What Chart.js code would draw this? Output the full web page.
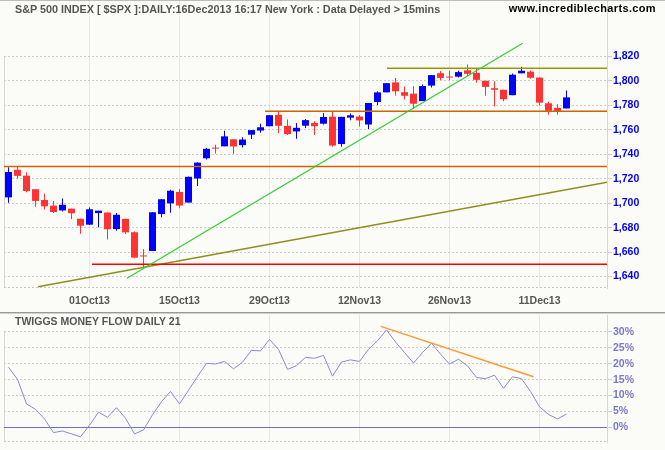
<!DOCTYPE html>
<html><head><meta charset="utf-8">
<script src="https://cdn.jsdelivr.net/npm/chart.js@4.4.1/dist/chart.umd.min.js"></script>
<style>
html,body{margin:0;padding:0;background:#fbfbf7;}
#wrap{position:relative;width:665px;height:450px;overflow:hidden;background:#fbfbf7;font-family:'Liberation Sans',Arial,sans-serif;font-weight:bold;}
canvas{position:absolute;left:0;}
#c1{top:0;} #c2{top:314px;}
.t{position:absolute;white-space:nowrap;line-height:1;}
</style></head>
<body><div id="wrap">
<canvas id="c1" width="665" height="312"></canvas>
<canvas id="c2" width="665" height="136"></canvas>
<div style="position:absolute;left:0;top:0;width:665px;height:1px;background:#bdbdbd"></div>
<div style="position:absolute;left:0;top:312px;width:665px;height:1px;background:#999"></div>
<div style="position:absolute;left:0;top:313px;width:665px;height:1px;background:#d0d0d0"></div>
<div class="t" style="left:15px;top:4px;font-size:10.8px;color:#555">S&amp;P 500 INDEX [ $SPX ]:DAILY:16Dec2013 16:17 New York : Data Delayed &gt; 15mins</div>
<div class="t" style="right:9px;top:3px;font-size:11px;letter-spacing:0.35px;color:#000">www.incrediblecharts.com</div>
<div class="t" style="left:15px;top:316px;font-size:10.5px;color:#555">TWIGGS MONEY FLOW DAILY 21</div>
</div>
<script>
// ---- data ----
const DATES = ['18Sep13','19Sep13','20Sep13','23Sep13','24Sep13','25Sep13','26Sep13','27Sep13','30Sep13',
 '01Oct13','02Oct13','03Oct13','04Oct13','07Oct13','08Oct13','09Oct13','10Oct13','11Oct13','14Oct13','15Oct13','16Oct13','17Oct13','18Oct13','21Oct13','22Oct13','23Oct13','24Oct13','25Oct13','28Oct13','29Oct13','30Oct13','31Oct13',
 '01Nov13','04Nov13','05Nov13','06Nov13','07Nov13','08Nov13','11Nov13','12Nov13','13Nov13','14Nov13','15Nov13','18Nov13','19Nov13','20Nov13','21Nov13','22Nov13','25Nov13','26Nov13','27Nov13','29Nov13',
 '02Dec13','03Dec13','04Dec13','05Dec13','06Dec13','09Dec13','10Dec13','11Dec13','12Dec13','13Dec13','16Dec13'];
const OPEN = [1704.76,1727.34,1722.44,1711.44,1702.60,1698.02,1694.05,1695.52,1687.26,
 1682.41,1691.90,1692.35,1678.79,1687.15,1676.22,1656.99,1660.88,1691.09,1699.86,1709.17,1700.49,1720.17,1736.72,1745.20,1746.48,1752.27,1747.48,1756.01,1759.42,1762.93,1772.27,1763.24,
 1758.70,1763.40,1765.67,1765.00,1770.74,1748.37,1769.96,1770.87,1764.37,1782.75,1790.66,1798.82,1790.79,1789.59,1783.52,1796.19,1806.33,1802.87,1803.48,1808.69,
 1806.55,1800.10,1794.08,1792.82,1788.36,1806.21,1807.60,1802.76,1781.71,1777.98,1777.48];
const HIGH = [1729.44,1729.86,1725.23,1711.44,1707.63,1701.71,1703.85,1695.52,1687.26,
 1696.55,1693.87,1692.35,1691.94,1687.15,1676.79,1662.47,1692.56,1703.44,1711.03,1711.57,1721.76,1733.45,1745.31,1747.79,1759.33,1752.27,1753.94,1759.82,1764.99,1772.09,1775.22,1768.53,
 1765.67,1768.78,1767.03,1773.74,1774.54,1770.78,1773.44,1772.21,1782.00,1791.53,1798.22,1802.33,1795.51,1795.73,1797.16,1804.84,1808.10,1808.42,1808.27,1813.55,
 1810.02,1800.10,1799.80,1792.82,1806.04,1811.52,1808.52,1802.97,1782.99,1780.92,1792.22];
const LOW = [1700.35,1720.20,1708.89,1697.10,1694.90,1691.88,1693.11,1687.11,1674.99,
 1682.07,1680.34,1670.36,1677.33,1674.70,1655.03,1646.47,1660.88,1688.52,1692.13,1695.93,1700.49,1714.12,1735.74,1740.67,1746.48,1740.50,1745.50,1752.45,1757.67,1762.93,1757.24,1755.72,
 1752.70,1761.56,1755.76,1764.40,1746.20,1746.20,1767.85,1762.69,1760.64,1780.22,1790.66,1788.00,1784.72,1777.23,1783.52,1794.70,1800.58,1800.77,1802.77,1803.98,
 1798.60,1787.85,1779.09,1783.38,1788.36,1806.21,1801.75,1780.09,1772.28,1772.45,1777.48];
const CLOSE = [1725.52,1722.34,1709.91,1701.84,1697.42,1692.77,1698.67,1691.75,1681.55,
 1695.00,1693.87,1678.66,1690.50,1676.12,1655.45,1656.40,1692.56,1703.20,1710.14,1698.06,1721.54,1733.15,1744.50,1744.66,1754.67,1746.38,1752.07,1759.77,1762.11,1771.95,1763.31,1756.54,
 1761.64,1767.93,1762.97,1770.49,1747.15,1770.61,1771.89,1767.69,1782.00,1790.62,1798.18,1791.53,1787.87,1781.37,1795.85,1804.76,1802.48,1802.75,1807.23,1805.81,
 1800.90,1795.15,1792.81,1785.03,1805.09,1808.37,1802.62,1782.22,1775.50,1775.32,1786.54];
const TMF = [18.9,15.1,7.4,5.7,2.7,-1.6,-1.1,-2.0,-2.9,0.7,4.8,3.2,6.2,2.9,-2.0,-0.8,4.0,8.1,11.3,7.4,
 11.7,16.0,20.1,19.9,20.7,18.4,20.5,24.2,24.0,27.6,24.5,18.2,19.4,22.0,21.7,22.6,16.1,20.5,21.2,20.7,
 24.5,27.2,30.6,26.8,23.5,20.2,23.5,26.4,23.0,19.9,21.4,19.3,15.7,15.3,16.4,12.3,15.9,15.3,11.3,6.5,4.1,2.7,4.2];
const TICK_LABELS = ['01Oct13','15Oct13','29Oct13','12Nov13','26Nov13','11Dec13'];
const PRICE_TICKS = [1640,1660,1680,1700,1720,1740,1760,1780,1800,1820];
const TMF_TICKS = [0,5,10,15,20,25,30];
// drawn lines: [candle index, value] end points
const LINE_1730 = [[-0.5,1730],[66.5,1730]];
const LINE_1775 = [[28.5,1775.2],[66.5,1775.2]];
const LINE_1810 = [[42.06,1810.3],[66.5,1810.3]];
const LINE_1650 = [[9.28,1650],[66.5,1650]];
const TREND_UP = [[13.17,1638.5],[57.13,1830.8]];
const TREND_LONG = [[3.28,1631.7],[66.5,1717.1]];
const TMF_TREND = [[41.37,31.7],[58.33,15.9]];
const TMF_ZERO = [[-0.5,0],[66.5,0]];

// ---- chart ----
const FONT = "'Liberation Sans', Arial, sans-serif";
const TICK_IDX = TICK_LABELS.map(l => DATES.indexOf(l));
const XMIN = -0.5, XMAX = 66.5;
const pts = a => a.map(p => ({x: p[0], y: p[1]}));
const UP = '#0000ff', DOWN = '#ff3333';
const colors = CLOSE.map((c, i) => c >= OPEN[i] ? UP : DOWN);

const framePlugin = {
  id: 'frame',
  beforeDatasetsDraw(chart, args, opts) {
    const {ctx, chartArea: a} = chart;
    const top = chart.scales.y.getPixelForValue(opts.topValue);
    ctx.save();
    ctx.lineWidth = 1;
    ctx.strokeStyle = '#d6d6d6';
    ctx.beginPath(); ctx.moveTo(a.left + 0.5, Math.round(top)); ctx.lineTo(a.left + 0.5, a.bottom); ctx.stroke();
    ctx.setLineDash([2, 2]);
    ctx.strokeStyle = '#c8c8c8';
    ctx.beginPath(); ctx.moveTo(a.left, a.bottom - 0.5); ctx.lineTo(a.right, a.bottom - 0.5); ctx.stroke();
    ctx.restore();
  }
};

function lineDs(points, color, width) {
  return {type: 'line', data: pts(points), borderColor: color, borderWidth: width,
          pointRadius: 0, tension: 0, fill: false, order: 0};
}
function xScale(showLabels, height) {
  return {
    type: 'linear', min: XMIN, max: XMAX, offset: false,
    grid: {color: '#e6e6e6', drawTicks: false, offset: false},
    border: {display: false},
    afterBuildTicks: s => { s.ticks = TICK_IDX.map(v => ({value: v})); },
    ticks: {display: showLabels, autoSkip: false, maxRotation: 0, padding: 7, color: '#555',
            font: {family: FONT, size: 10.5, weight: 'bold'},
            callback: v => TICK_LABELS[TICK_IDX.indexOf(v)]},
    afterFit: s => { s.height = height; s.paddingLeft = 0; s.paddingRight = 0; }
  };
}
function yScale(min, max, ticks, color, fmt) {
  return {
    type: 'linear', position: 'right', min, max,
    afterBuildTicks: s => { s.ticks = ticks.map(v => ({value: v})); },
    grid: {color: '#cccccc', tickLength: 5},
    border: {display: true, color: '#d6d6d6', dash: [2, 2]},
    ticks: {color, padding: 1, font: {family: FONT, size: 10.5, weight: 'bold'}, callback: fmt},
    afterFit: s => { s.width = 58; s.paddingTop = 0; s.paddingBottom = 0; }
  };
}

// price panel: area top 1, bottom 288; 1820 at 56.5, 1640 at 276.5
const K1 = 220 / 180;
const PMAX = 1820 + 55.5 / K1, PMIN = 1640 - 11.5 / K1;

new Chart(document.getElementById('c1'), {
  type: 'bar',
  data: {
    datasets: [
      lineDs(TREND_UP, '#33cc33', 1.2),
      lineDs(LINE_1810, '#999900', 1.5),
      lineDs(LINE_1775, '#cc6600', 1.5),
      lineDs(LINE_1730, '#cc6600', 1.5),
      lineDs(LINE_1650, '#ff0000', 1.5),
      lineDs(TREND_LONG, '#8f8f1f', 1.5),
      {type: 'bar', data: OPEN.map((o, i) => ({x: i, y: [o, CLOSE[i]]})), backgroundColor: colors,
       barThickness: 7, grouped: false, minBarLength: 1, borderWidth: 0, inflateAmount: 0, order: 1},
      {type: 'bar', data: LOW.map((l, i) => ({x: i, y: [l, HIGH[i]]})), backgroundColor: colors,
       barThickness: 1, grouped: false, borderWidth: 0, inflateAmount: 0, order: 2}
    ]
  },
  options: {
    responsive: false, animation: false, devicePixelRatio: 1, events: [],
    layout: {padding: {left: 4, top: 1, right: 0, bottom: 0}},
    plugins: {legend: {display: false}, tooltip: {enabled: false}, frame: {topValue: 1820}},
    scales: {
      x: xScale(true, 24),
      y: yScale(PMIN, PMAX, PRICE_TICKS, '#0000ee', v => v.toLocaleString('en-US'))
    }
  },
  plugins: [framePlugin]
});

// TMF panel: canvas top 314; area top 1 (315), bottom 128 (442); 0% at 113.5, 30% at 17.8
const K2 = (113.5 - 17.8) / 30;
const TMAX = (113.5 - 1) / K2, TMIN = -(128 - 113.5) / K2;

new Chart(document.getElementById('c2'), {
  type: 'line',
  data: {
    datasets: [
      lineDs(TMF_TREND, '#ff9933', 1.5),
      {type: 'line', data: TMF.map((v, i) => ({x: i, y: v})), borderColor: '#8a8ad6', borderWidth: 1,
       pointRadius: 0, tension: 0, fill: false, order: 1},
      Object.assign(lineDs(TMF_ZERO, '#6f6fbf', 1.2), {order: 2})
    ]
  },
  options: {
    responsive: false, animation: false, devicePixelRatio: 1, events: [],
    layout: {padding: {left: 4, top: 1, right: 0, bottom: 0}},
    plugins: {legend: {display: false}, tooltip: {enabled: false}, frame: {topValue: 30}},
    scales: {
      x: xScale(false, 8),
      y: yScale(TMIN, TMAX, TMF_TICKS, '#7878c8', v => v + '%')
    }
  },
  plugins: [framePlugin]
});
</script>
</body></html>
